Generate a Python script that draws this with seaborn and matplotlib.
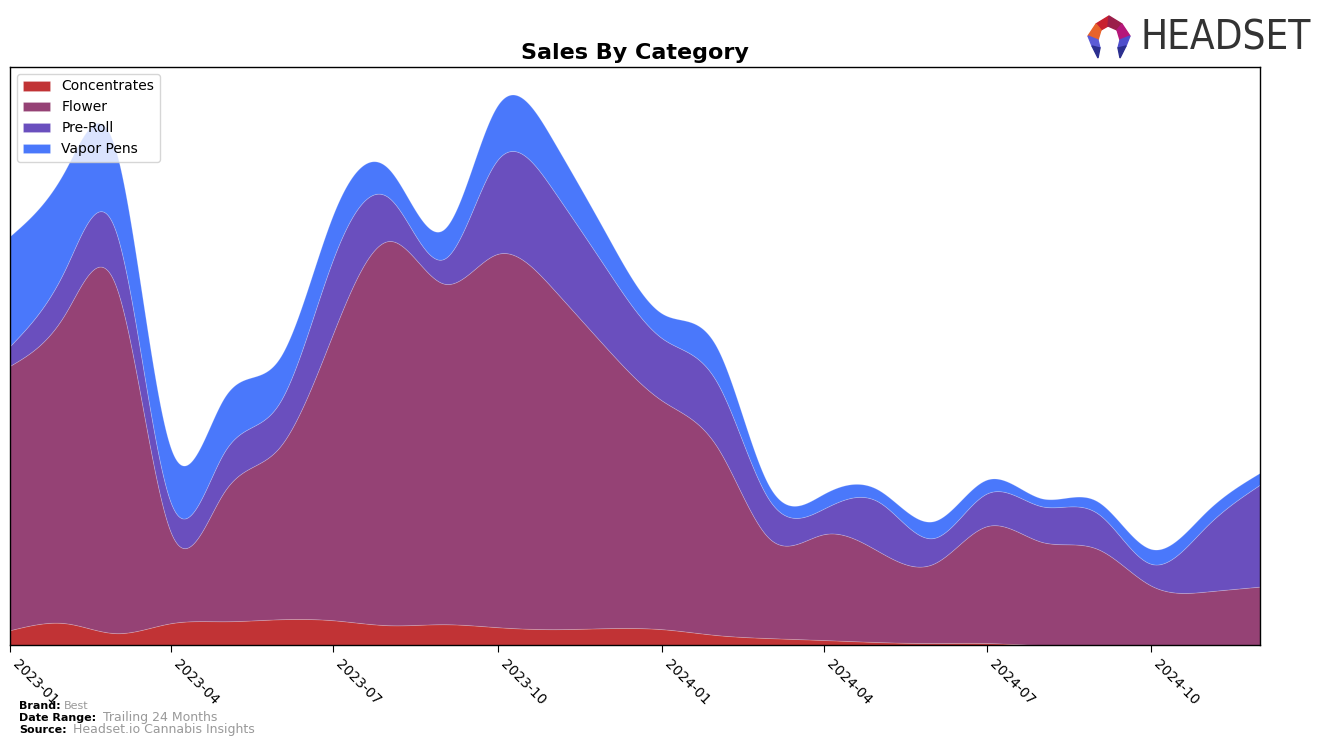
import numpy as np
import pandas as pd
import matplotlib
matplotlib.use("Agg")
import matplotlib.pyplot as plt
import matplotlib.dates as mdates
from matplotlib.patches import Polygon
import seaborn as sns

# ---- data (monthly, arbitrary units) ----
months = pd.date_range("2023-01-01", "2024-12-01", freq="MS")
categories = ["Concentrates", "Flower", "Pre-Roll", "Vapor Pens"]
concentrates = [15, 22, 12, 22, 24, 26, 25, 20, 21, 18, 16, 17,
                16, 10, 7, 5, 3, 2, 2, 0, 0, 0, 0, 0]
flower = [267, 313, 352, 92, 131, 174, 290, 388, 344, 377, 344, 283,
          231, 190, 101, 107, 92, 80, 118, 104, 97, 60, 54, 59]
pre_roll = [20, 45, 55, 30, 40, 45, 75, 44, 25, 95, 100, 80,
            63, 65, 39, 26, 50, 26, 33, 36, 36, 22, 66, 103]
vapor_pens = [111, 100, 82, 55, 55, 45, 45, 29, 30, 55, 50, 35,
              25, 35, 14, 15, 12, 17, 14, 8, 12, 15, 15, 12]
colors = ["#C13335", "#954275", "#6A4FBE", "#4A78FB"]
tick_labels = ["2023-01", "2023-04", "2023-07", "2023-10",
               "2024-01", "2024-04", "2024-07", "2024-10"]


def natural_spline(x, y, xs):
    x = np.asarray(x, float)
    y = np.asarray(y, float)
    n = len(x)
    h = np.diff(x)
    A = np.zeros((n, n))
    b = np.zeros(n)
    A[0, 0] = 1
    A[-1, -1] = 1
    for i in range(1, n - 1):
        A[i, i - 1] = h[i - 1]
        A[i, i] = 2 * (h[i - 1] + h[i])
        A[i, i + 1] = h[i]
        b[i] = 6 * ((y[i + 1] - y[i]) / h[i] - (y[i] - y[i - 1]) / h[i - 1])
    M = np.linalg.solve(A, b)
    idx = np.clip(np.searchsorted(x, xs) - 1, 0, n - 2)
    x0, x1 = x[idx], x[idx + 1]
    hh = x1 - x0
    t0 = x1 - xs
    t1 = xs - x0
    return (M[idx] * t0 ** 3 / (6 * hh) + M[idx + 1] * t1 ** 3 / (6 * hh)
            + (y[idx] / hh - M[idx] * hh / 6) * t0
            + (y[idx + 1] / hh - M[idx + 1] * hh / 6) * t1)


sns.set_style("ticks")
plt.rcParams["font.family"] = ["DejaVu Sans"]
plt.rcParams["text.color"] = "black"
plt.rcParams["xtick.color"] = "black"
plt.rcParams["xtick.labelcolor"] = "black"

fig = plt.figure(figsize=(13.24, 7.46), dpi=100)
ax = fig.add_axes([10 / 1324, 101 / 746, 1250 / 1324, 578 / 746])

xnum = mdates.date2num(months)
xs = np.linspace(xnum[0], xnum[-1], 1500)
series = [concentrates, flower, pre_roll, vapor_pens]
smooth = [np.clip(natural_spline(xnum, s, xs), 0, None) for s in series]

ax.stackplot(mdates.num2date(xs), *smooth, labels=categories, colors=colors,
             edgecolor=(1, 1, 1, 0.2), linewidth=0.6)

ax.set_xlim(months[0], months[-1])
ax.set_ylim(0, None)
ax.set_yticks([])
tick_dates = pd.to_datetime([t + "-01" for t in tick_labels])
ax.set_xticks(tick_dates)
ax.set_xticklabels(tick_labels, rotation=-45, ha="left", fontsize=10,
                   color="black")
for s in ax.spines.values():
    s.set_visible(True)
    s.set_color("black")
    s.set_linewidth(1)
ax.tick_params(axis="x", length=5, color="black")

ax.set_title("Sales By Category", fontsize=16, fontweight="bold", pad=6,
             color="black")
ax.legend(loc="upper left", fontsize=10, frameon=True, handlelength=2,
          borderpad=0.4, labelspacing=0.5)

# footer
fig.text(19 / 1324, 1 - 706 / 746, "Brand:", fontsize=8, fontweight="bold", va="center")
fig.text(64 / 1324, 1 - 706 / 746, "Best", fontsize=8, color="#999999", va="center")
fig.text(19 / 1324, 1 - 718 / 746, "Date Range:", fontsize=8, fontweight="bold", va="center")
fig.text(103 / 1324, 1 - 718 / 746, "Trailing 24 Months", fontsize=9, color="#999999", va="center")
fig.text(19 / 1324, 1 - 730 / 746, "Source:", fontsize=8, fontweight="bold", va="center")
fig.text(73 / 1324, 1 - 729 / 746, "Headset.io Cannabis Insights", fontsize=9, color="#999999", va="center")

# logo
lax = fig.add_axes([1084 / 1324, 1 - 62 / 746, 50 / 1324, 48 / 746])
lax.set_xlim(0, 50)
lax.set_ylim(0, 48)
lax.axis("off")
polys = [
    ([(12, 38), (25, 46), (24, 36), (17, 32)], "#C8202F"),
    ([(25, 46), (38, 38), (33, 32), (24, 36)], "#9B1E4A"),
    ([(12, 38), (17, 32), (14, 22), (4, 26)], "#E8632A"),
    ([(38, 38), (46, 26), (36, 22), (33, 32)], "#B5177A"),
    ([(4, 26), (14, 22), (16, 14), (8, 16)], "#5B5BD6"),
    ([(8, 16), (16, 14), (14, 4)], "#2B2F8F"),
    ([(46, 26), (42, 16), (34, 14), (36, 22)], "#4E4ECC"),
    ([(42, 16), (36, 4), (34, 14)], "#2B2F8F"),
]
for pts, c in polys:
    lax.add_patch(Polygon(pts, closed=True, color=c))
fig.text(1140 / 1324, 1 - 38 / 746, "HEADSET", fontsize=29, color="#333333",
         va="center", ha="left", family="DejaVu Sans", fontstretch="condensed")

fig.savefig("out.png", dpi=100)
